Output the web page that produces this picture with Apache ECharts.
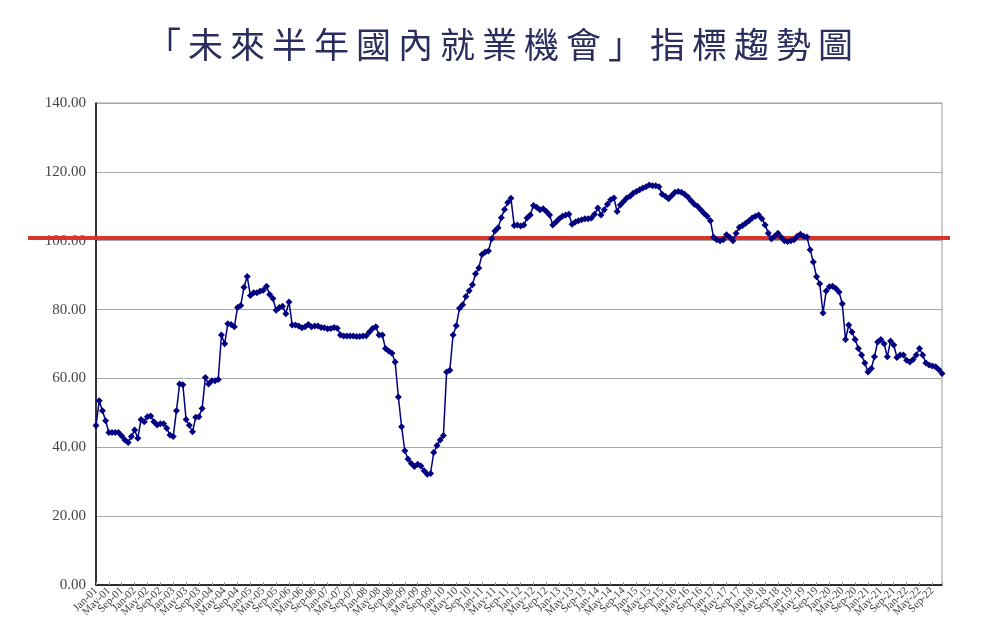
<!DOCTYPE html>
<html>
<head>
<meta charset="utf-8">
<script src="https://cdn.jsdelivr.net/npm/echarts@6/dist/echarts.min.js"></script>
<style>
  html, body { margin: 0; padding: 0; background: #fff; }
  #wrap { position: relative; width: 998px; height: 633px; }
  #title {
    position: absolute; left: 4px; top: 19px; width: 998px; text-align: center;
    font-family: "Noto Sans CJK TC", sans-serif; font-size: 35px; letter-spacing: 7px;
    font-weight: normal; color: #2a2d5e; line-height: 48px;
  }
  #main { width: 998px; height: 633px; }
</style>
</head>
<body>
<div id="wrap">
  <div id="main"></div>
  <div id="title">「未來半年國內就業機會」指標趨勢圖</div>
</div>
<script>
!function(){
    // 月份標籤
    var monthNames = ['Jan','Feb','Mar','Apr','May','Jun','Jul','Aug','Sep','Oct','Nov','Dec'];
    var years = ['01','02','03','04','05','06','07','08','09','10','11','12','13','14','15','16','17','18','19','20','21','22'];

    // 指標數值 (每月)
    var y2001_2005 = [
        46.3, 53.5, 50.6, 47.7, 44.3, 44.3, 44.3, 44.3, 43.3, 42.1, 41.4, 43.1,
        45.0, 42.6, 48.1, 47.4, 48.9, 49.1, 47.4, 46.5, 46.8, 46.8, 45.5, 43.6,
        43.1, 50.6, 58.4, 58.2, 48.1, 46.4, 44.5, 48.7, 48.9, 51.3, 60.3, 58.4,
        59.3, 59.3, 59.7, 72.6, 70.1, 75.9, 75.7, 75.0, 80.6, 81.2, 86.5, 89.6,
        84.1, 84.9, 84.9, 85.3, 85.6, 86.8, 84.4, 83.2, 79.8, 80.6, 81.0, 78.8
    ];
    var y2006_2010 = [
        82.2, 75.5, 75.5, 75.2, 74.7, 75.0, 75.7, 75.0, 75.2, 75.2, 74.8, 74.7,
        74.4, 74.5, 74.8, 74.6, 72.6, 72.3, 72.3, 72.3, 72.3, 72.2, 72.2, 72.3,
        72.4, 73.5, 74.5, 75.0, 72.6, 72.6, 68.7, 68.0, 67.3, 64.8, 54.6, 46.0,
        39.0, 36.6, 35.3, 34.4, 35.1, 34.6, 33.2, 32.2, 32.4, 38.5, 40.5, 42.1,
        43.4, 61.9, 62.4, 72.6, 75.3, 80.4, 81.4, 83.8, 85.5, 87.2, 90.4, 92.1
    ];
    var y2011_2016 = [
        96.0, 96.7, 97.0, 100.6, 102.8, 103.8, 106.7, 109.1, 111.1, 112.3, 104.4, 104.6,
        104.3, 104.6, 106.6, 107.5, 110.2, 109.7, 109.0, 109.3, 108.5, 107.5, 104.6, 105.4,
        106.4, 107.1, 107.5, 107.7, 104.8, 105.4, 105.8, 106.1, 106.4, 106.4, 106.6, 107.7,
        109.5, 107.5, 109.0, 110.6, 111.9, 112.4, 108.5, 110.4, 111.4, 112.4, 112.9, 113.8,
        114.3, 114.8, 115.3, 115.7, 116.2, 116.0, 116.0, 115.7, 113.5, 112.9, 112.2, 113.1,
        114.1, 114.3, 114.1, 113.5, 112.7, 111.6, 110.6, 110.0, 109.0, 108.0, 107.1, 105.8
    ];
    var y2017_2022 = [
        101.0, 100.3, 100.0, 100.3, 101.7, 101.0, 100.0, 102.2, 103.9, 104.4, 105.1, 105.8,
        106.6, 107.1, 107.5, 106.4, 104.6, 102.2, 100.6, 101.3, 102.2, 101.0, 100.0, 99.8,
        100.0, 100.3, 101.3, 101.9, 101.3, 101.1, 97.4, 93.8, 89.5, 87.5, 79.0, 85.4,
        86.6, 86.8, 86.1, 85.1, 81.7, 71.3, 75.5, 73.5, 71.3, 68.7, 66.8, 64.5,
        61.9, 62.9, 66.3, 70.6, 71.3, 70.1, 66.3, 70.9, 69.7, 66.1, 66.8, 66.8,
        65.3, 64.8, 65.5, 66.8, 68.7, 66.8, 64.5, 63.9, 63.6, 63.4, 62.6, 61.4
    ];
    // 紅色基準線
    var refLevel = 100.8;

    var categories = [];
    years.forEach(function(y){
        monthNames.forEach(function(m){ categories.push(m + '-' + y); });
    });
    var values = y2001_2005.concat(y2006_2010, y2011_2016, y2017_2022);

    var myChart = echarts.init(document.getElementById('main'));

    var option = {
        animation: false,
        grid: {
            left: 96, right: 56, top: 103, bottom: 48,
            show: true, borderColor: '#9a9a9a', borderWidth: 1
        },
        xAxis: {
            type: 'category',
            boundaryGap: false,
            data: categories,
            axisLine: { lineStyle: { color: '#000', width: 1.5 } },
            axisTick: { interval: 3, inside: true, length: 3, lineStyle: { color: '#999' } },
            axisLabel: {
                // 每四個月一個標籤
                interval: 0, rotate: 45, margin: 4,
                fontFamily: 'Liberation Serif', fontSize: 11, color: '#444',
                formatter: function(v, i){ return i % 4 === 0 ? v : ''; }
            },
            splitLine: { show: false }
        },
        yAxis: {
            type: 'value',
            min: 0, max: 140, interval: 20,
            axisLine: { show: true, lineStyle: { color: '#000', width: 1.5 } },
            axisTick: { show: false },
            axisLabel: {
                margin: 10, fontFamily: 'Liberation Serif', fontSize: 15, color: '#444',
                formatter: function(v){ return v.toFixed(2); }
            },
            splitLine: { lineStyle: { color: '#a8a8a8', width: 1 } }
        },
        series: [
            {
                name: '未來半年國內就業機會',
                type: 'line',
                data: values,
                symbol: 'diamond',
                symbolSize: 7,
                showAllSymbol: true,
                itemStyle: { color: '#000080' },
                lineStyle: { color: '#000080', width: 1.5 },
                z: 5
            }
        ]
    };

    myChart.setOption(option);

    // 紅色基準線 (延伸到繪圖區外)
    var yPix = myChart.convertToPixel({ yAxisIndex: 0 }, refLevel);
    myChart.setOption({
        graphic: [{
            type: 'line', z: 1,
            shape: { x1: 28, y1: yPix, x2: 950, y2: yPix },
            style: { stroke: '#d8342a', lineWidth: 4 }
        }]
    });
}()
</script>
</body>
</html>
